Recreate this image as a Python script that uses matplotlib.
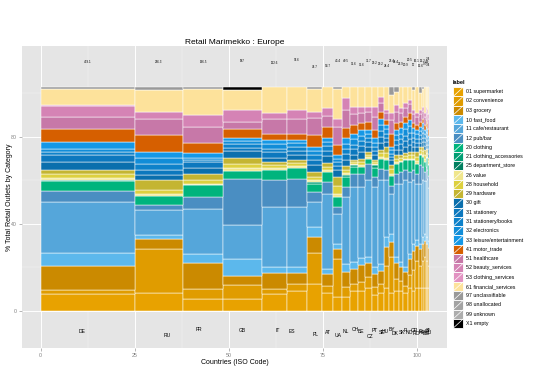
import numpy as np
import matplotlib
matplotlib.use("Agg")
import matplotlib.pyplot as plt
from matplotlib.patches import Rectangle

plt.rcParams["font.family"] = ["Liberation Sans", "DejaVu Sans"]

# ---------------------------------------------------------------------------
# Data
# ---------------------------------------------------------------------------

countries = ["DE", "RU", "FR", "GB", "IT", "ES", "PL", "AT", "UA", "NL",
             "CH", "BE", "CZ", "PT", "SE", "HU", "BY", "DK", "SK", "FI",
             "NO", "GR", "RO", "IE", "HR", "BG", "SI", "LT", "LU"]

# retail outlets per country, thousands (bar width)
outlets = [459.1, 236.3, 196.5, 187, 122.6, 97.6, 74.7, 54.7, 43.4, 40.5,
           36.6, 36.6, 31.7, 29.2, 29.2, 24.4, 23.4, 24.4, 22.9, 20.9,
           20.5, 17.0, 16.1, 15.6, 12.2, 9.7, 4.9, 3.4, 2.4]

labels = ["01 supermarket", "02 convenience", "03 grocery", "10 fast_food",
          "11 cafe/restaurant", "12 pub/bar", "20 clothing",
          "21 clothing_accessories", "25 department_store", "26 value",
          "28 household", "29 hardware", "30 gift", "31 stationery",
          "31 stationery/books", "32 electronics", "33 leisure/entertainment",
          "41 motor_trade", "51 healthcare", "52 beauty_services",
          "53 clothing_services", "61 financial_services", "97 unclassifiable",
          "98 unallocated", "99 unknown", "X1 empty"]

colors = ["#E8A200", "#E09C00", "#CB8A00", "#5CB8EC", "#55A6DA", "#4A8EC2",
          "#00B47D", "#009E73", "#007F5F", "#F0E68C", "#DDD03E", "#C4B532",
          "#0A6FAD", "#0C78BE", "#0E82CA", "#118DD8", "#1598E6",
          "#D65F00", "#C778A8", "#D583B5", "#E292C2", "#FDE29B", "#999999",
          "#A3A3A3", "#ADADAD", "#000000"]

# % of outlets per category, one value per country (same order as countries)
supermarket = [7.5, 7.8, 5.2, 5.2, 7.5, 9.0, 12.0, 8.0, 6.0, 6.0, 9.0, 9.0, 10.0, 7.0, 8.0,
               10.0, 8.0, 9.0, 9.0, 8.0, 10.0, 9.0, 10.0, 10.0, 10.0, 10.0, 10.0, 10.0, 10.0]
convenience = [1.8, 19.8, 4.5, 6.4, 2.2, 3.0, 14.0, 3.0, 17.0, 4.5, 3.0, 4.0, 5.0, 3.5, 4.0,
               10.0, 16.0, 5.0, 4.4, 3.2, 6.0, 9.0, 12.0, 10.0, 12.0, 14.0, 12.0, 12.0, 10.0]
grocery = [10.9, 4.5, 11.5, 4.1, 7.0, 4.7, 6.8, 5.4, 4.6, 6.7, 6.7, 7.6, 6.2, 5.9, 5.9,
           8.4, 6.6, 7.2, 6.0, 6.0, 7.1, 8.9, 7.1, 7.6, 7.9, 7.0, 8.0, 8.0, 8.0]
fast_food = [5.5, 1.9, 4.2, 7.4, 2.7, 2.7, 4.5, 2.3, 2.3, 3.5, 3.0, 3.0, 2.7, 3.0, 3.0,
             4.5, 3.5, 2.7, 2.3, 2.2, 2.3, 3.0, 2.3, 2.3, 3.0, 3.1, 3.0, 3.0, 3.0]
cafe_restaurant = [22.8, 11.1, 20.1, 15.0, 26.9, 26.9, 11.2, 33.6, 13.4, 30.0, 33.5, 31.6, 34.3, 35.8, 37.3,
                   25.3, 18.0, 32.8, 35.0, 38.8, 32.1, 28.3, 25.3, 26.8, 25.3, 24.0, 25.0, 26.0, 24.0]
pub_bar = [4.9, 1.9, 5.2, 20.9, 12.2, 12.7, 4.5, 5.2, 3.0, 4.5, 6.0, 6.0, 7.5, 4.5, 5.2,
           4.5, 3.5, 4.5, 5.3, 4.5, 4.5, 4.5, 4.5, 8.2, 6.0, 4.0, 6.0, 4.0, 5.0]
clothing = [4.5, 4.1, 5.3, 3.4, 4.2, 4.9, 3.5, 4.4, 4.4, 4.5, 3.0, 3.0, 2.2, 4.2, 4.5,
            4.5, 4.5, 4.5, 4.4, 4.5, 5.2, 4.5, 4.5, 4.5, 4.5, 4.5, 4.0, 5.0, 5.0]
clothing_acc = [0.3, 0, 0, 0, 0, 0, 1.0, 0, 0, 1.0, 0.7, 0, 0, 1.0, 0,
                0, 0, 0, 0, 0, 0, 0, 0, 0, 0, 0, 0, 0, 0]
department = [0.3, 0, 0, 0, 0, 0, 0, 0, 0, 0, 0, 0, 0, 0, 0,
              0, 0, 0, 0, 0, 0, 0, 0, 0, 0, 0, 0, 0, 0]
value = [0.9, 0.8, 0.7, 1.5, 0.8, 0.8, 0.8, 0.8, 1.5, 0.8, 0.5, 0.9, 0.6, 0.5, 0.8,
         1.0, 1.0, 0.7, 0.6, 0.6, 0.7, 0.7, 1.0, 0.7, 0.8, 1.0, 0.8, 0.8, 0.6]
household = [1.8, 1.8, 1.8, 1.8, 1.4, 1.2, 1.6, 1.5, 3.5, 1.5, 0.9, 1.4, 1.2, 0.9, 1.5,
             2.4, 2.0, 1.5, 1.2, 1.2, 1.5, 1.5, 2.1, 1.5, 1.8, 2.0, 1.6, 1.6, 1.2]
hardware = [1.8, 4.5, 2.4, 2.7, 1.5, 1.3, 2.0, 1.8, 4.0, 1.5, 0.9, 1.4, 1.2, 0.9, 1.5,
            2.5, 2.0, 1.5, 1.2, 1.2, 1.5, 1.5, 2.1, 1.5, 1.8, 2.0, 1.6, 1.6, 1.2]
gift = [3.4, 2.3, 3.0, 2.9, 2.0, 2.2, 3.0, 3.0, 3.0, 3.0, 2.5, 3.0, 2.2, 2.2, 3.0,
        2.2, 2.0, 2.5, 2.5, 2.8, 3.0, 2.1, 2.0, 1.8, 2.1, 1.8, 2.0, 1.8, 2.0]
stationery = [3.0, 2.5, 2.5, 1.5, 2.5, 2.0, 2.5, 2.5, 2.0, 2.5, 2.5, 2.5, 2.0, 2.0, 3.0,
              2.0, 1.5, 2.2, 2.5, 2.6, 2.8, 2.1, 2.0, 1.8, 2.1, 1.8, 2.0, 1.8, 2.0]
stationery_books = [1.5, 2.4, 1.0, 1.5, 1.5, 1.5, 2.0, 2.0, 1.5, 2.0, 2.0, 2.2, 1.8, 1.8, 2.5,
                    1.8, 1.5, 2.0, 2.3, 2.6, 2.8, 2.1, 1.9, 1.8, 2.1, 1.8, 2.0, 1.8, 2.0]
electronics = [1.5, 3.0, 1.0, 1.5, 1.9, 1.8, 1.7, 1.8, 1.7, 2.5, 2.4, 2.5, 1.8, 1.8, 2.8,
               1.9, 1.5, 2.2, 2.3, 2.7, 2.8, 2.1, 1.9, 1.8, 2.1, 1.8, 2.0, 1.8, 2.0]
leisure = [2.7, 2.5, 1.8, 1.5, 1.8, 1.7, 2.0, 2.0, 1.5, 2.5, 2.5, 2.5, 1.9, 1.9, 2.8,
           1.9, 1.5, 2.3, 2.4, 2.7, 2.8, 2.1, 1.9, 1.8, 2.1, 1.8, 2.0, 1.8, 2.0]
motor_trade = [5.8, 7.5, 4.5, 3.6, 3.0, 2.7, 5.3, 4.8, 4.5, 4.5, 3.8, 3.0, 3.7, 3.7, 3.0,
               2.2, 6.0, 3.0, 2.9, 3.0, 3.0, 2.2, 2.3, 2.2, 2.2, 2.5, 3.0, 3.0, 3.0]
healthcare = [5.7, 7.0, 7.4, 3.4, 6.3, 6.5, 7.8, 5.0, 8.0, 8.0, 5.0, 4.5, 4.3, 6.0, 4.0,
              3.0, 6.0, 5.0, 4.0, 4.0, 4.0, 4.0, 3.5, 3.5, 3.5, 3.5, 4.0, 4.0, 4.5]
beauty = [4.9, 3.1, 5.2, 5.3, 3.0, 4.0, 2.6, 3.3, 3.5, 5.3, 3.2, 3.0, 2.5, 4.5, 2.7,
          1.5, 3.0, 3.2, 2.0, 2.0, 1.9, 2.0, 1.7, 1.8, 1.8, 1.5, 2.0, 2.0, 2.5]
clothing_serv = [0.3, 0, 0, 0, 0, 0, 0, 0, 0, 0, 0, 0, 0, 0, 0,
                 0, 0, 0, 0, 0, 0, 0, 0, 0, 0, 0, 0, 0, 0]
financial = [7.0, 10.0, 11.5, 8.9, 11.6, 10.4, 10.0, 9.6, 13.4, 5.2, 8.9, 8.9, 8.9, 8.9, 4.5,
             10.4, 8.2, 6.0, 9.7, 7.4, 6.0, 8.9, 11.9, 7.4, 8.0, 11.9, 9.0, 10.0, 12.0]
unclassifiable = [1.2, 1.5, 1.2, 0, 0, 0, 1.2, 0, 1.2, 0, 0, 0, 0, 0, 0,
                  0, 3.7, 2.2, 0, 0, 0, 1.5, 0, 3.0, 0.9, 0, 0, 0, 0]
unallocated = [0] * 29
unknown = [0] * 29
empty = [0, 0, 0, 1.5, 0, 0, 0, 0, 0, 0, 0, 0, 0, 0, 0,
         0, 0, 0, 0, 0, 0, 0, 0, 0, 0, 0, 0, 0, 0]

shares = [supermarket, convenience, grocery, fast_food, cafe_restaurant, pub_bar,
          clothing, clothing_acc, department, value, household, hardware, gift,
          stationery, stationery_books, electronics, leisure, motor_trade,
          healthcare, beauty, clothing_serv, financial, unclassifiable,
          unallocated, unknown, empty]

# label jitter as seen in the source chart
top_label_y = [114.3, 114.3, 114.3, 114.9, 113.9, 115.2, 112.2, 112.7, 114.8, 114.8,
               113.4, 113.0, 114.6, 114.0, 113.2, 112.4, 115.0, 114.2, 113.6, 112.8,
               115.4, 113.0, 114.6, 112.6, 115.0, 113.4, 114.2, 112.8, 115.6]
iso_label_y = [-9.3, -11.2, -8.4, -8.9, -8.9, -9.3, -10.7, -10.1, -11.2, -9.3,
               -8.4, -9.3, -11.6, -9.0, -10.2, -9.6, -8.8, -10.4, -9.8, -9.2,
               -10.0, -8.9, -10.6, -9.4, -9.9, -10.3, -9.1, -9.7, -10.0]
iso_label_dx = [-1.5, 2.1, -1.1, 0, 0.9, -1.3, 0.2, 0.1, 0.1, -0.2,
                0.3, -0.2, 0.3, -0.1, 0.2, -0.2, 0.1, -0.2, 0.2, 0.1,
                -0.1, 0.2, -0.1, 0.1, -0.2, 0.1, 0.2, -0.1, 0.2]

# ---------------------------------------------------------------------------
# Geometry: the source stacks everything to ~103 on both axes
# ---------------------------------------------------------------------------

EXTENT = 103.0
S = np.array(shares, dtype=float)
S = S / S.sum(axis=0) * EXTENT
w = np.array(outlets) / sum(outlets) * EXTENT
left = np.concatenate([[0.0], np.cumsum(w)[:-1]])
mid = left + w / 2

W, H = 545, 390
fig = plt.figure(figsize=(W / 100, H / 100), dpi=100, facecolor="white")
ax = fig.add_axes([22 / W, 1 - 348 / H, (447 - 22) / W, (348 - 46) / H])
ax.set_facecolor("#E5E5E5")
ax.set_xlim(-4.97, 107.9)
ax.set_ylim(-17.1, 121.7)

# grid (ggplot style)
for xv in [12.5, 37.5, 62.5, 87.5]:
    ax.axvline(xv, color="#F2F2F2", lw=0.35, zorder=0)
for yv in [20, 60, 100]:
    ax.axhline(yv, color="#F2F2F2", lw=0.35, zorder=0)
for xv in [0, 25, 50, 75, 100]:
    ax.axvline(xv, color="white", lw=0.7, zorder=0)
for yv in [0, 40, 80]:
    ax.axhline(yv, color="white", lw=0.7, zorder=0)

bottom = np.zeros(len(countries))
for k in range(len(labels)):
    m = S[k] > 0
    ax.bar(left[m], S[k][m], width=w[m], bottom=bottom[m], align="edge",
           color=colors[k], edgecolor="white", linewidth=0.35, zorder=2)
    bottom += S[k]

for i, c in enumerate(countries):
    ax.text(mid[i], top_label_y[i], f"{outlets[i]:g}", fontsize=2.2,
            ha="center", va="center", color="black")
    ax.text(mid[i] + iso_label_dx[i], iso_label_y[i], c, fontsize=3.6,
            ha="center", va="center", color="black")

ax.set_xticks([0, 25, 50, 75, 100])
ax.set_yticks([0, 40, 80])
ax.tick_params(labelsize=3.8, labelcolor="#7F7F7F", color="#7F7F7F",
               length=2, width=0.4, pad=1.5)
for s in ax.spines.values():
    s.set_visible(False)

fig.text(234.5 / W, 1 - 42.7 / H, "Retail Marimekko : Europe", fontsize=6,
         ha="center", va="center")
fig.text(234.5 / W, 1 - 362 / H, "Countries (ISO Code)", fontsize=5,
         ha="center", va="center")
fig.text(10 / W, 1 - 197 / H, "% Total Retail Outlets by Category", fontsize=5,
         ha="center", va="center", rotation=90)

# ---------------------------------------------------------------------------
# Legend, drawn by hand in pixel coordinates
# ---------------------------------------------------------------------------

lax = fig.add_axes([0, 0, 1, 1])
lax.set_xlim(0, W)
lax.set_ylim(H, 0)
lax.axis("off")

lax.text(453, 82, "label", fontsize=4, fontweight="bold", va="center", ha="left")
step = 9.27
for i, (lab, col) in enumerate(zip(labels, colors)):
    yc = 91.7 + i * step
    y0, y1 = yc - step / 2, yc + step / 2
    lax.add_patch(Rectangle((453.3, y0), 10, step, facecolor=col,
                            edgecolor="white", linewidth=0.6))
    lax.plot([453.3, 463.3], [y1, y0], color="white", lw=0.5)
    lax.text(465.5, yc, lab, fontsize=3.8, va="center", ha="left")

fig.savefig("out.png", dpi=100)
